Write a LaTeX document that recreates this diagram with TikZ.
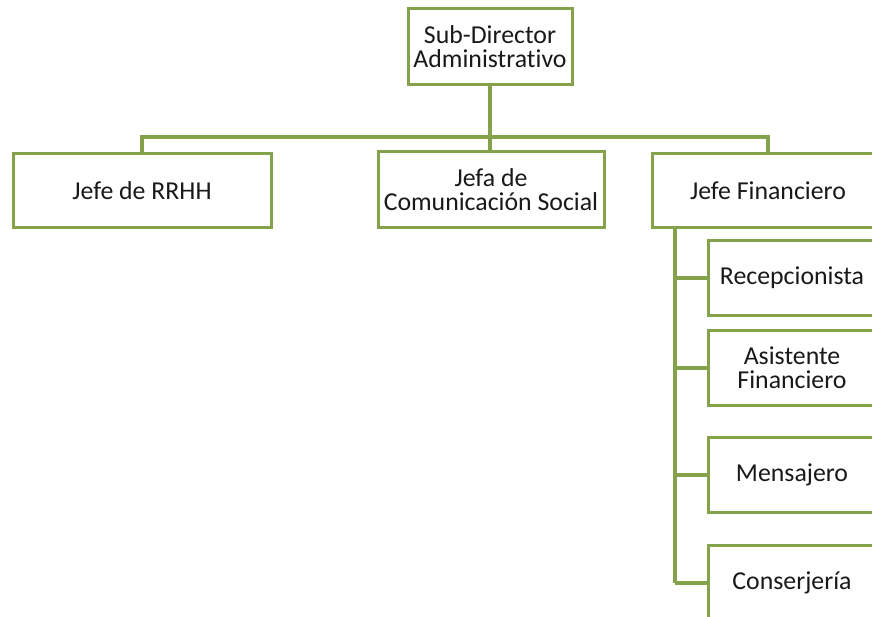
\documentclass[tikz,border=0pt]{standalone}
\usepackage{fontspec}
\setmainfont{Carlito}[Ligatures=NoCommon]
\definecolor{olivo}{RGB}{132,162,76}
\definecolor{texto}{RGB}{25,25,25}

\begin{document}
\begin{tikzpicture}[x=1pt,y=-1pt,
    cargo/.style={draw=olivo,line width=3pt,fill=white,text=texto,align=center,
      inner sep=2pt,font=\fontsize{25.8}{24}\selectfont},
    linea/.style={draw=olivo,line width=3.5pt}]
    \useasboundingbox (0,0) rectangle (872,617);
    \clip (0,0) rectangle (872,617);
    \node[cargo,minimum width=164pt,minimum height=76pt] (sda) at (490,47) {Sub-Director\\Administrativo};
    \node[cargo,minimum width=258pt,minimum height=74pt] (rrhh) at (142,191) {Jefe de RRHH};
    \node[cargo,minimum width=226pt,minimum height=76pt] (jefa) at (491,190) {Jefa de\\Comunicación Social};
    \node[cargo,minimum width=232pt,minimum height=74pt] (fin) at (768,191) {Jefe Financiero};
    \node[cargo,minimum width=168pt,minimum height=75pt] (rec) at (792,278) {Recepcionista};
    \node[cargo,minimum width=168pt,minimum height=75pt] (asis) at (792,368) {Asistente\\Financiero};
    \node[cargo,minimum width=168pt,minimum height=75pt] (men) at (792,475) {Mensajero};
    \node[cargo,minimum width=168pt,minimum height=75pt] (con) at (792,583) {Conserjería};
    \coordinate (bus) at (490,137);
    \coordinate (trunk) at (675,229);
    \path[linea] (sda) -- (bus);
    \path[linea] (rrhh.north) |- (bus) -| (fin.north);
    \path[linea] (bus) -- (bus |- jefa.north);
    \path[linea] (trunk) -- (trunk |- con.west);
    \foreach \n in {rec,asis,men,con}
      \path[linea] (trunk |- \n.west) -- (\n.west);
\end{tikzpicture}
\end{document}
